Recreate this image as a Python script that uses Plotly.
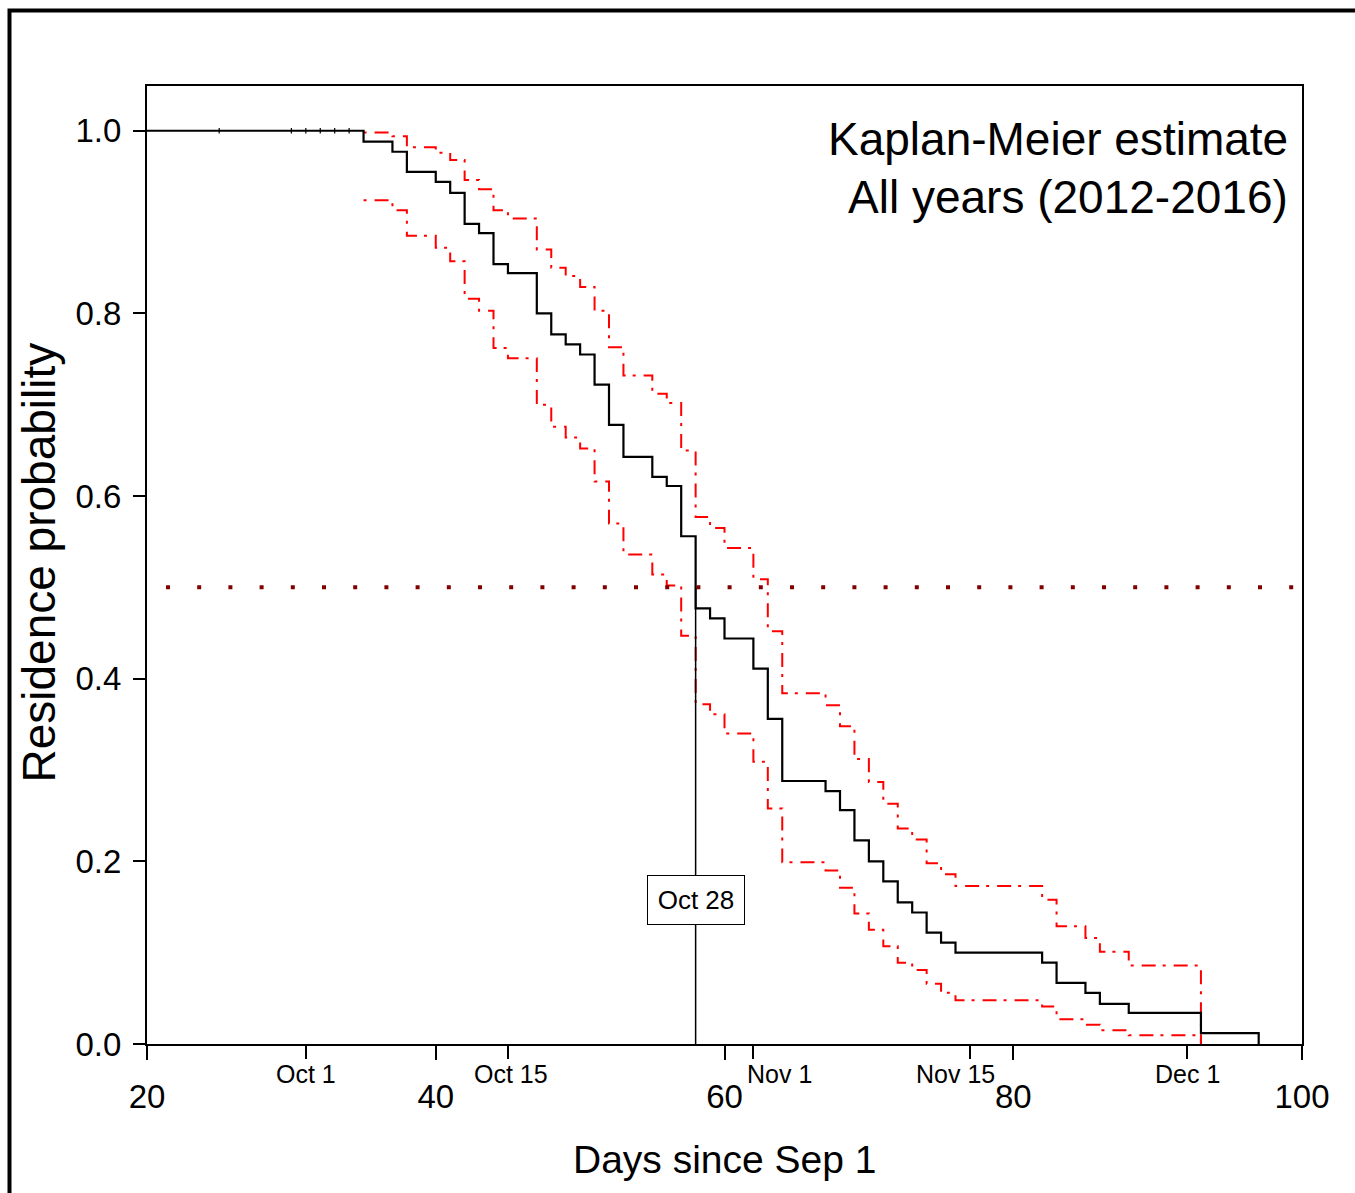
import plotly.graph_objects as go

# Kaplan-Meier residence estimate, all years pooled (2012-2016)
km_days = [20, 35, 37, 38, 40, 41, 42, 43, 44, 45, 47, 48, 49, 50, 51, 52, 53, 55, 56, 57,
           58, 59, 60, 62, 63, 64, 67, 68, 69, 70, 71, 72, 73, 74, 75, 76, 82, 83, 85, 86,
           88, 93, 97]
km_surv = [1.0, 0.988, 0.977, 0.955, 0.944, 0.932, 0.898, 0.888, 0.854, 0.844, 0.800, 0.777,
           0.766, 0.755, 0.722, 0.678, 0.643, 0.621, 0.611, 0.556, 0.477, 0.466, 0.444, 0.411,
           0.356, 0.288, 0.277, 0.256, 0.223, 0.200, 0.178, 0.155, 0.144, 0.122, 0.111, 0.100,
           0.089, 0.067, 0.056, 0.044, 0.034, 0.012, 0.0]

# 95% confidence band
ci_days = [35, 37, 38, 40, 41, 42, 43, 44, 45, 47, 48, 49, 50, 51, 52, 53, 55, 56, 57, 58,
           59, 60, 62, 63, 64, 67, 68, 69, 70, 71, 72, 73, 74, 75, 76, 82, 83, 85, 86, 88, 93]
ci_upper = [0.998, 0.994, 0.982, 0.976, 0.968, 0.946, 0.936, 0.913, 0.904, 0.870, 0.850, 0.841,
            0.829, 0.803, 0.763, 0.732, 0.712, 0.702, 0.650, 0.577, 0.565, 0.543, 0.509, 0.452,
            0.384, 0.371, 0.348, 0.312, 0.287, 0.263, 0.236, 0.224, 0.198, 0.186, 0.173, 0.158,
            0.129, 0.116, 0.101, 0.086, 0.0]
ci_lower = [0.924, 0.913, 0.885, 0.872, 0.857, 0.816, 0.803, 0.762, 0.751, 0.700, 0.676, 0.664,
            0.652, 0.616, 0.570, 0.536, 0.514, 0.502, 0.447, 0.372, 0.361, 0.340, 0.309, 0.258,
            0.199, 0.190, 0.171, 0.143, 0.125, 0.107, 0.089, 0.081, 0.066, 0.056, 0.048, 0.041,
            0.027, 0.021, 0.015, 0.0095, 0.0]

# censored observations before the first departure
censor_days = [25, 30, 31, 32, 33, 34]
censor_surv = [1.0, 1.0, 1.0, 1.0, 1.0, 1.0]

median_day = 58
median_label = "Oct 28"
median_level = 0.5

x_ticks = [20, 40, 60, 80, 100]
y_ticks = [0.0, 0.2, 0.4, 0.6, 0.8, 1.0]
date_ticks = [31, 45, 62, 77, 92]
date_labels = ["Oct 1", "Oct 15", "Nov 1", "Nov 15", "Dec 1"]
date_label_shift = [0, 3, 26, -14, 1]

title_lines = ["Kaplan-Meier estimate", "All years (2012-2016)"]
x_title = "Days since Sep 1"
y_title = "Residence probability"

FONT = "Liberation Sans, Arial, sans-serif"

fig = go.Figure()

ci_dash = "3px,8px,14px,7px"
fig.add_trace(go.Scatter(x=ci_days, y=ci_upper, mode="lines", line_shape="hv",
                         line=dict(color="#ff0000", width=2, dash=ci_dash),
                         hoverinfo="skip"))
fig.add_trace(go.Scatter(x=ci_days, y=ci_lower, mode="lines", line_shape="hv",
                         line=dict(color="#ff0000", width=2, dash=ci_dash),
                         hoverinfo="skip"))
fig.add_trace(go.Scatter(x=km_days, y=km_surv, mode="lines", line_shape="hv",
                         line=dict(color="black", width=2.2)))
fig.add_trace(go.Scatter(x=censor_days, y=censor_surv, mode="markers",
                         marker=dict(symbol="line-ns", size=4,
                                     line=dict(color="black", width=1.2))))
# carrier trace for the calendar-date tick axis
fig.add_trace(go.Scatter(x=[date_ticks[0]], y=[0], xaxis="x2", mode="markers",
                         marker=dict(opacity=0), hoverinfo="skip"))

# median residence: dotted 50% level and vertical drop line
fig.add_shape(type="line", xref="x", yref="y", x0=20, x1=100, y0=median_level, y1=median_level,
              line=dict(color="#800000", width=4, dash="0px,19px,4px,8.2px"))
fig.add_shape(type="line", xref="x", yref="y", x0=median_day, x1=median_day,
              y0=0, y1=median_level, line=dict(color="black", width=1.5))

# outer frame of the figure panel
fig.add_shape(type="rect", xref="paper", yref="paper",
              x0=(9.5 - 147) / 1155, x1=(1400 - 147) / 1155,
              y0=(1044 - 1250) / 958, y1=(1044 - 10.5) / 958,
              line=dict(color="black", width=4), layer="above")

annotations = []
annotations.append(dict(x=median_day, y=0.158, xref="x", yref="y", text=median_label,
                        showarrow=False, font=dict(family=FONT, size=26, color="black"),
                        bgcolor="white", bordercolor="black", borderwidth=1,
                        width=96, height=48, borderpad=0))
for d, lab, sh in zip(date_ticks, date_labels, date_label_shift):
    annotations.append(dict(x=d, y=-0.031, xref="x", yref="paper", text=lab, xshift=sh,
                            showarrow=False, yanchor="middle",
                            font=dict(family=FONT, size=25, color="black")))
annotations.append(dict(x=0.990, y=0.9447, xref="paper", yref="paper", text=title_lines[0],
                        xanchor="right", yanchor="middle", showarrow=False,
                        font=dict(family=FONT, size=46, color="black")))
annotations.append(dict(x=0.990, y=0.884, xref="paper", yref="paper", text=title_lines[1],
                        xanchor="right", yanchor="middle", showarrow=False,
                        font=dict(family=FONT, size=46, color="black")))
annotations.append(dict(x=0.5, y=-0.121, xref="paper", yref="paper", text=x_title,
                        xanchor="center", yanchor="middle", showarrow=False,
                        font=dict(family=FONT, size=39, color="black")))
annotations.append(dict(x=-0.0935, y=0.5026, xref="paper", yref="paper", text=y_title,
                        textangle=-90, xanchor="center", yanchor="middle", showarrow=False,
                        font=dict(family=FONT, size=46, color="black")))

fig.update_layout(
    width=1355, height=1193,
    margin=dict(l=147, r=53, t=86, b=149),
    paper_bgcolor="white", plot_bgcolor="white",
    showlegend=False,
    annotations=annotations,
    xaxis=dict(range=[20, 100], tickvals=x_ticks, ticktext=[str(v) for v in x_ticks],
               ticks="outside", ticklen=14, tickwidth=2, tickcolor="black",
               showline=True, linecolor="black", linewidth=2, mirror=True,
               showgrid=False, zeroline=False, ticklabelstandoff=8,
               tickfont=dict(family=FONT, size=33, color="black")),
    xaxis2=dict(range=[20, 100], overlaying="x", anchor="y", side="bottom",
                tickvals=date_ticks, ticks="outside", ticklen=14, tickwidth=2,
                tickcolor="black", showticklabels=False, showline=False,
                showgrid=False, zeroline=False),
    yaxis=dict(range=[0, 1.049], tickvals=y_ticks, ticktext=[f"{v:.1f}" for v in y_ticks],
               ticks="outside", ticklen=12, tickwidth=2, tickcolor="black",
               showline=True, linecolor="black", linewidth=2, mirror=True,
               showgrid=False, zeroline=False, ticklabelstandoff=5,
               tickfont=dict(family=FONT, size=33, color="black")),
)

fig.write_html("out.html")
